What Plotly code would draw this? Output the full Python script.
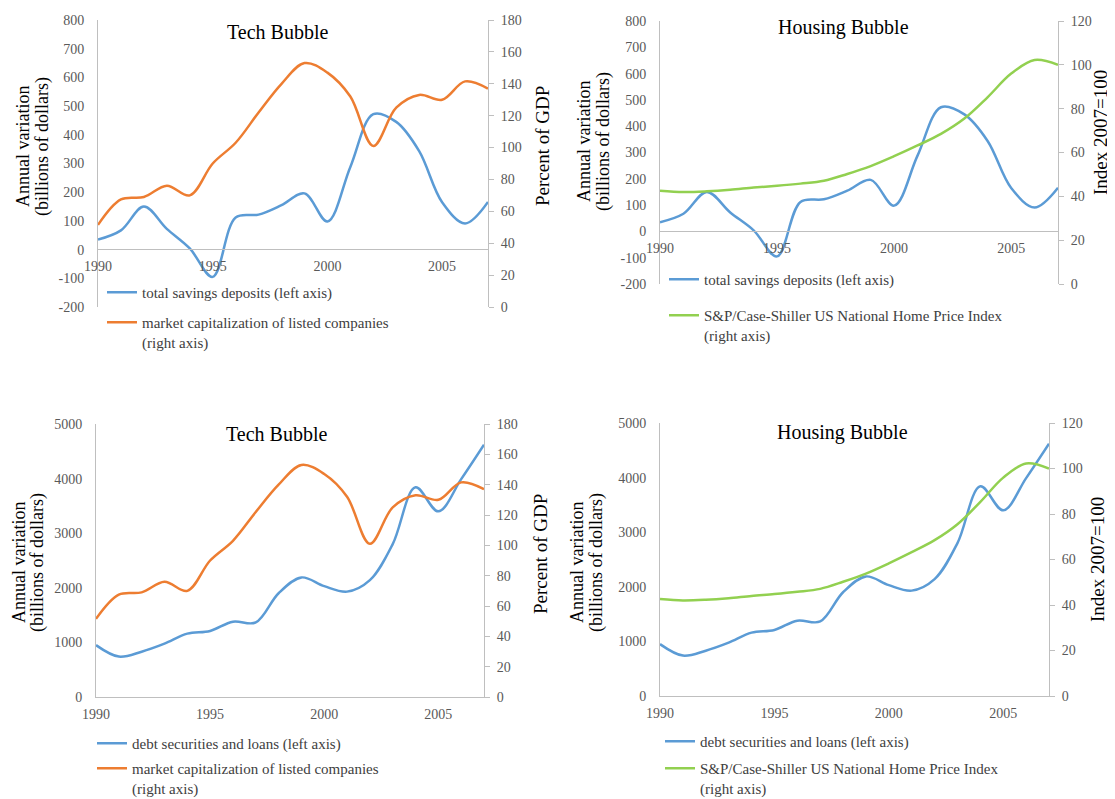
import plotly.graph_objects as go

# годовые данные 1990-2007
years = list(range(1990, 2008))
savings = [35, 67, 150, 72, 4, -95, 112, 122, 155, 196, 98, 288, 472, 445, 343, 165, 91, 166]
debt = [950, 740, 830, 977, 1160, 1210, 1380, 1365, 1900, 2190, 2030, 1930, 2140, 2800, 3840, 3400, 3990, 4620]
mktcap = [51.5, 67.5, 69, 76, 70, 90, 103, 122, 140, 153, 147, 132, 101, 125, 133, 130, 141.5, 137]
caseshiller = [42.6, 42.0, 42.3, 43.0, 44.0, 44.8, 45.8, 47.1, 50.2, 53.8, 58.3, 63.2, 68.5, 75.5, 85.3, 96.0, 102.2, 100.0]

x_ticks = [1990, 1995, 2000, 2005]

# у body отступ 8px: фигура начинается с (8, 8) и доходит до краёв окна
PAD = 8
W, H = 1115 - PAD, 799 - PAD
FONT = "Liberation Serif"
BLUE, ORANGE, GREEN = "#5B9BD5", "#ED7D31", "#92D050"
AXIS = "#BFBFBF"
TICK = "#595959"


def px(x):
    return (x - PAD) / W


def py(y):
    return 1 - (y - PAD) / H


fig = go.Figure()


def line(y, xa, ya, color, name, legend):
    fig.add_trace(go.Scatter(
        x=years, y=y, xaxis=xa, yaxis=ya, mode="lines", name=name,
        line=dict(color=color, width=2.5, shape="spline", smoothing=1),
        legend=legend, showlegend=True,
    ))


line(savings, "x", "y", BLUE, "total savings deposits (left axis)", "legend")
line(mktcap, "x", "y2", ORANGE, "market capitalization of listed companies<br>(right axis)", "legend2")
line(savings, "x2", "y3", BLUE, "total savings deposits (left axis)", "legend3")
line(caseshiller, "x2", "y4", GREEN, "S&amp;P/Case-Shiller US National Home Price Index<br>(right axis)", "legend4")
line(debt, "x3", "y5", BLUE, "debt securities and loans (left axis)", "legend5")
line(mktcap, "x3", "y6", ORANGE, "market capitalization of listed companies<br>(right axis)", "legend6")
line(debt, "x4", "y7", BLUE, "debt securities and loans (left axis)", "legend7")
line(caseshiller, "x4", "y8", GREEN, "S&amp;P/Case-Shiller US National Home Price Index<br>(right axis)", "legend8")

tickfont = dict(family=FONT, size=14, color=TICK)

# панели в пикселях окна: левая/правая граница, верх/низ, где проходит ноль левой оси
panels = [
    dict(x0=98, x1=488, yt=20, yb=307, zero=249),
    dict(x0=660, x1=1058, yt=21, yb=284, zero=231),
    dict(x0=96, x1=484, yt=424, yb=697, zero=None),
    dict(x0=660, x1=1049, yt=423, yb=696, zero=None),
]
left_ranges = [[-200, 800], [-200, 800], [0, 5000], [0, 5000]]
left_dticks = [100, 100, 1000, 1000]
right_ranges = [[0, 180], [0, 120], [0, 180], [0, 120]]

layout = {}
for i, p in enumerate(panels):
    n = i + 1
    xname = "xaxis" if n == 1 else f"xaxis{n}"
    yl = 2 * i + 1
    yr = 2 * i + 2
    ylname = "yaxis" if yl == 1 else f"yaxis{yl}"
    yrname = f"yaxis{yr}"
    xref = "x" if n == 1 else f"x{n}"
    ylref = "y" if yl == 1 else f"y{yl}"
    dom_y = [py(p["yb"]), py(p["yt"])]
    xa = dict(
        domain=[px(p["x0"]), px(p["x1"])], range=[1990, 2007],
        tickvals=x_ticks, showgrid=False, zeroline=False, automargin=False,
        showline=True, linecolor=AXIS, linewidth=1, ticks="",
        tickfont=tickfont, ticklabelstandoff=4,
    )
    if p["zero"] is not None:
        xa.update(anchor="free", position=py(p["zero"]))
    else:
        xa.update(anchor=ylref)
    layout[xname] = xa
    lo, hi = left_ranges[i]
    lvals = list(range(lo, hi + 1, left_dticks[i]))
    layout[ylname] = dict(
        domain=dom_y, range=left_ranges[i], anchor=xref,
        tickvals=lvals, ticktext=[str(v) for v in lvals],  # дефис вместо минуса, как в Excel
        showgrid=False, zeroline=False, showline=True, linecolor=AXIS,
        automargin=False, ticks="", tickfont=tickfont, ticklabelstandoff=10,
    )
    layout[yrname] = dict(
        range=right_ranges[i], dtick=20, overlaying=ylref, side="right", anchor=xref,
        showgrid=False, zeroline=False, showline=True, linecolor=AXIS,
        automargin=False, ticks="outside", ticklen=5, tickcolor=AXIS,
        tickfont=tickfont, ticklabelstandoff=4,
    )

# легенды: одна запись в каждой
legend_pos = [(102, 276), (102, 306), (664, 263), (664, 299),
              (92, 727), (92, 752), (660, 725), (660, 752)]
for i, (lx, ly) in enumerate(legend_pos):
    name = "legend" if i == 0 else f"legend{i + 1}"
    layout[name] = dict(
        x=px(lx), y=py(ly), xanchor="left", yanchor="top",
        bgcolor="rgba(0,0,0,0)", valign="top", itemwidth=30,
        font=dict(family=FONT, size=15, color="#404040"),
    )

annotations = []


def note(text, x, y, size, angle=0):
    annotations.append(dict(text=text, x=px(x), y=py(y), xref="paper", yref="paper",
                            xanchor="center", yanchor="middle", showarrow=False,
                            textangle=angle, font=dict(family=FONT, size=size, color="black")))


for text, x, y in [("Tech Bubble", 277, 32), ("Housing Bubble", 843, 28),
                   ("Tech Bubble", 276, 434), ("Housing Bubble", 842, 433)]:
    note(text, x, y, 20)

# подписи левых осей: две строки отдельно, чтобы задать межстрочный интервал
for x1, x2, y in [(23, 42, 147), (584, 604, 142), (19, 37, 563), (577, 596, 563)]:
    note("Annual variation", x1, y, 18, -90)
    note("(billions of dollars)", x2, y, 18, -90)

for text, x, y in [("Percent of GDP", 543, 146), ("Index 2007=100", 1101, 133),
                   ("Percent of GDP", 540, 554), ("Index 2007=100", 1097, 560)]:
    note(text, x, y, 19, -90)

fig.update_layout(
    width=W, height=H,
    margin=dict(l=0, r=0, t=0, b=0, autoexpand=False),
    paper_bgcolor="white", plot_bgcolor="white",
    annotations=annotations,
    **layout,
)

fig.write_html("out.html")
